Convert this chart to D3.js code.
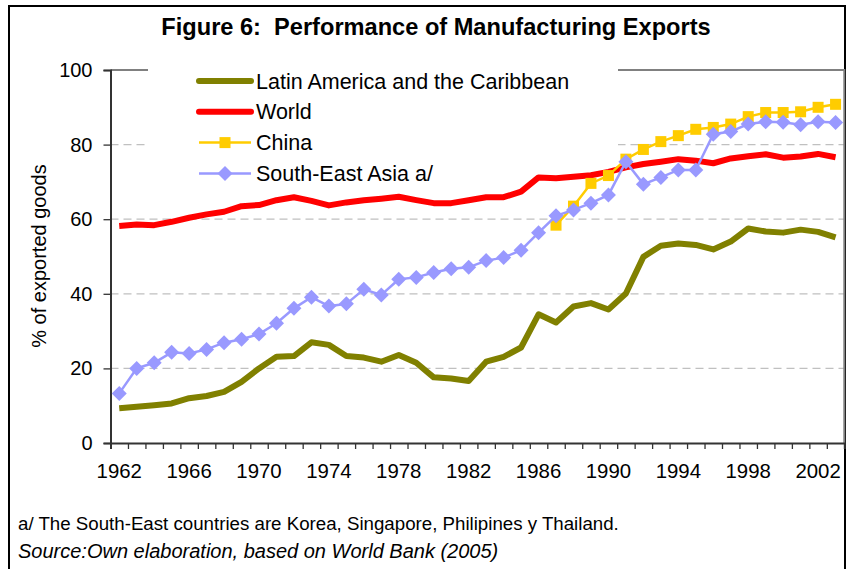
<!DOCTYPE html>
<html>
<head>
<meta charset="utf-8">
<script src="https://cdn.jsdelivr.net/npm/d3@7/dist/d3.min.js"></script>
<style>
  body { margin: 0; background: #fff; }
  svg text { font-family: "Liberation Sans", Arial, sans-serif; fill: #000; }
</style>
</head>
<body>
<svg id="chart" width="846" height="569"></svg>
<script>
	var years = d3.range(1962, 2004);
	var tickYears = [1962,1966,1970,1974,1978,1982,1986,1990,1994,1998,2002];
	var yTicks = [0,20,40,60,80,100];

	var latam = [9.3,9.7,10.1,10.6,12.0,12.6,13.7,16.4,20.0,23.1,23.3,27.0,26.3,23.3,
		22.9,21.8,23.6,21.5,17.6,17.3,16.6,21.8,23.1,25.6,34.5,32.3,36.6,37.5,35.8,40.1,
		49.9,52.9,53.5,53.1,51.9,54.0,57.5,56.7,56.4,57.2,56.6,55.1];
	var world = [58.2,58.6,58.4,59.3,60.4,61.3,62.0,63.5,63.8,65.1,65.9,64.9,63.7,64.5,
		65.1,65.5,66.0,65.1,64.3,64.3,65.1,65.9,65.9,67.4,71.2,71.0,71.4,71.8,72.7,73.9,
		74.8,75.4,76.1,75.7,75.0,76.3,76.9,77.4,76.5,76.8,77.5,76.6];
	// china starts in 1987
	var chinaYears = d3.range(1987, 2004);
	var china = [58.4,63.5,69.6,71.7,76.1,78.7,80.8,82.4,84.1,84.6,85.5,87.5,88.6,88.6,
		88.8,90.0,90.8];
	var seasia = [13.3,20.0,21.5,24.3,24.0,25.1,26.9,27.8,29.2,32.1,36.1,39.1,36.7,37.3,
		41.2,39.7,43.9,44.4,45.7,46.7,47.1,48.9,49.7,51.7,56.4,60.9,62.5,64.3,66.5,75.4,
		69.4,71.2,73.2,73.2,82.8,83.5,85.5,86.1,86.0,85.3,86.1,85.9];

	var svg = d3.select("#chart");
	var pLeft = 110.5, pRight = 844.3, pTop = 70, pBottom = 443;

	var xLin = d3.scaleLinear().domain([0, years.length]).range([pLeft, pRight]);
	var x = function(yr) { return xLin(yr - 1962 + 0.5); };
	var y = d3.scaleLinear().domain([0, 100]).range([pBottom, pTop]);

	// outer frame
	svg.append("rect").attr("x",9).attr("y",6).attr("width",836).attr("height",600)
		.attr("fill","none").attr("stroke","#000").attr("stroke-width",2);

	svg.append("text").attr("x",436).attr("y",35).attr("text-anchor","middle")
		.attr("font-size",23.6).attr("font-weight","bold").style("white-space","pre")
		.text("Figure 6:  Performance of Manufacturing Exports");

	// gridlines
	svg.append("g").selectAll("line").data([20,40,60,80]).enter().append("line")
		.attr("x1",pLeft).attr("x2",pRight)
		.attr("y1",function(d){return y(d);}).attr("y2",function(d){return y(d);})
		.attr("stroke","#c0c0c0").attr("stroke-width",1.3).attr("stroke-dasharray","8,5");

	// plot border top/right
	svg.append("path").attr("d","M"+pLeft+","+pTop+"H"+pRight+"V"+pBottom)
		.attr("fill","none").attr("stroke","#808080").attr("stroke-width",2);

	// y axis
	var yAxis = svg.append("g").attr("transform","translate("+pLeft+",0)")
		.call(d3.axisLeft(y).tickValues(yTicks).tickSize(7).tickPadding(11));
	yAxis.select(".domain").attr("stroke","#333").attr("stroke-width",2);
	yAxis.selectAll(".tick line").attr("stroke","#333").attr("stroke-width",1.3);
	yAxis.selectAll("text").attr("font-size",20).attr("font-family","Liberation Sans, Arial");

	// x axis: ticks on category boundaries, labels every 4 years
	var xAxis = svg.append("g").attr("transform","translate(0,"+pBottom+")")
		.call(d3.axisBottom(xLin).tickValues(d3.range(years.length+1)).tickSize(6).tickFormat(""));
	xAxis.select(".domain").attr("stroke","#333").attr("stroke-width",2);
	xAxis.selectAll(".tick line").attr("stroke","#333").attr("stroke-width",1.3);

	svg.append("g").selectAll("text").data(tickYears).enter().append("text")
		.attr("x",function(d){return x(d);}).attr("y",478)
		.attr("text-anchor","middle").attr("font-size",20.4)
		.text(function(d){return d;});

	svg.append("text").attr("transform","translate(46,256) rotate(-90)")
		.attr("text-anchor","middle").attr("font-size",20).text("% of exported goods");

	var line = d3.line().x(function(d){return x(d[0]);}).y(function(d){return y(d[1]);});

	svg.append("path").datum(d3.zip(years, latam)).attr("d",line)
		.attr("fill","none").attr("stroke","#808000").attr("stroke-width",6).attr("stroke-linejoin","round");
	svg.append("path").datum(d3.zip(years, world)).attr("d",line)
		.attr("fill","none").attr("stroke","#ff0000").attr("stroke-width",6).attr("stroke-linejoin","round");

	var chinaPts = d3.zip(chinaYears, china);
	svg.append("path").datum(chinaPts).attr("d",line)
		.attr("fill","none").attr("stroke","#ffcc00").attr("stroke-width",2.5);
	svg.append("g").selectAll("rect").data(chinaPts).enter().append("rect")
		.attr("x",function(d){return x(d[0])-5.5;}).attr("y",function(d){return y(d[1])-5.5;})
		.attr("width",11).attr("height",11).attr("fill","#ffcc00");

	var seaPts = d3.zip(years, seasia);
	svg.append("path").datum(seaPts).attr("d",line)
		.attr("fill","none").attr("stroke","#9999ff").attr("stroke-width",2.5);
	var diamond = "M0,-7.5L7.5,0L0,7.5L-7.5,0Z";
	svg.append("g").selectAll("path").data(seaPts).enter().append("path")
		.attr("transform",function(d){return "translate("+x(d[0])+","+y(d[1])+")";})
		.attr("d",diamond).attr("fill","#9999ff");

	// legend
	svg.append("rect").attr("x",148).attr("y",60).attr("width",470).attr("height",100).attr("fill","#fff");
	var legend = [
		{name:"Latin America and the Caribbean", color:"#808000", w:6, mark:null},
		{name:"World", color:"#ff0000", w:6, mark:null},
		{name:"China", color:"#ffcc00", w:2.5, mark:"square"},
		{name:"South-East Asia a/", color:"#9999ff", w:2.5, mark:"diamond"}
	];
	var lg = svg.append("g").selectAll("g").data(legend).enter().append("g")
		.attr("transform",function(d,i){return "translate(0,"+(81+i*30.8)+")";});
	lg.append("line").attr("x1",199).attr("x2",251).attr("y1",0).attr("y2",0)
		.attr("stroke",function(d){return d.color;}).attr("stroke-width",function(d){return d.w;})
		.attr("stroke-linecap",function(d){return d.mark ? "butt" : "round";});
	lg.filter(function(d){return d.mark==="square";}).append("rect")
		.attr("x",219.5).attr("y",-5.5).attr("width",11).attr("height",11).attr("fill","#ffcc00");
	lg.filter(function(d){return d.mark==="diamond";}).append("path")
		.attr("transform","translate(225,0)").attr("d",diamond).attr("fill","#9999ff");
	lg.append("text").attr("x",256).attr("y",7.5).attr("font-size",21.5)
		.text(function(d){return d.name;});

	svg.append("text").attr("x",18).attr("y",530).attr("font-size",18.7)
		.text("a/ The South-East countries are Korea, Singapore, Philipines y Thailand.");
	svg.append("text").attr("x",18).attr("y",558).attr("font-size",20).attr("font-style","italic")
		.text("Source:Own elaboration, based on World Bank (2005)");
</script>
</body>
</html>
